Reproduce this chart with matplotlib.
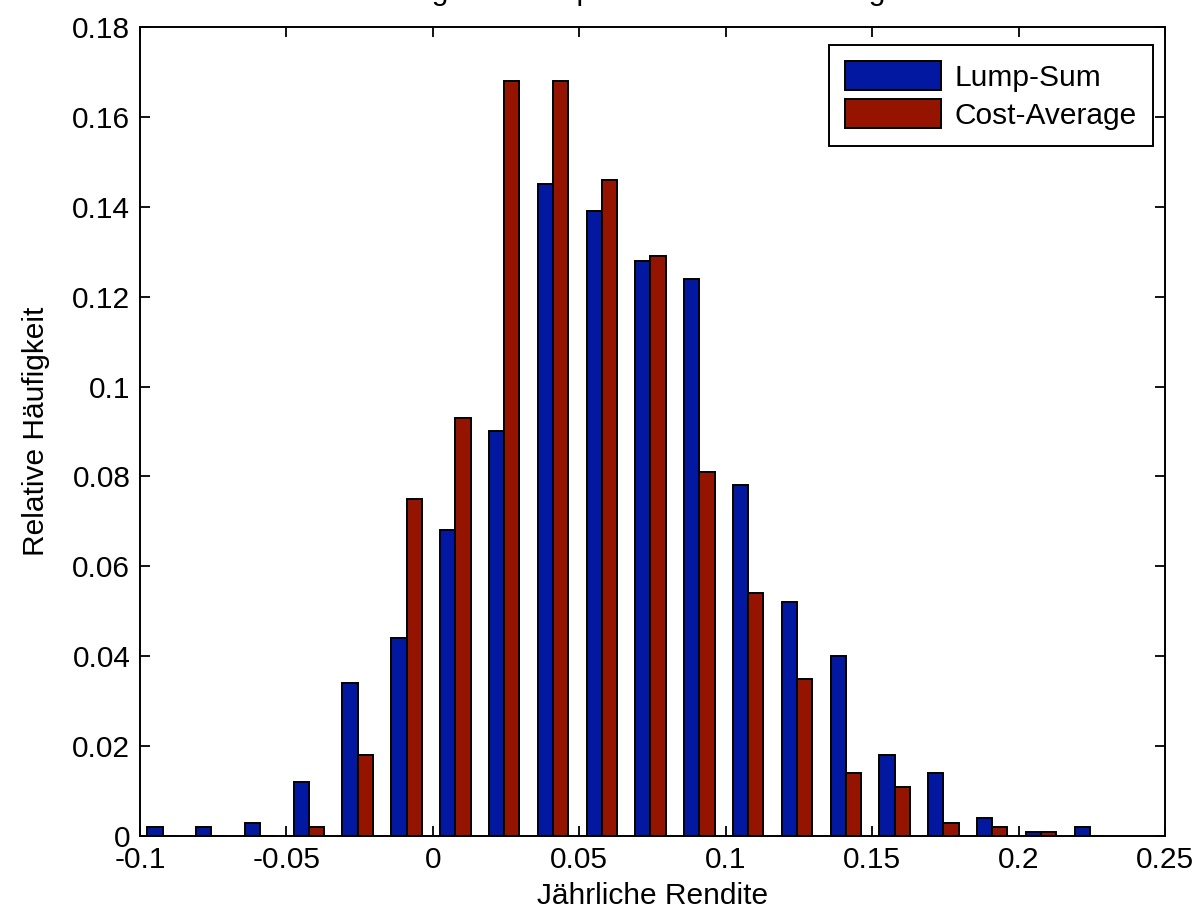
import matplotlib
matplotlib.use("Agg")
import matplotlib.pyplot as plt

# bin centres of the return histogram
bin_centers = [-0.0923, -0.0757, -0.0590, -0.0423, -0.0257, -0.0090, 0.0077,
               0.0243, 0.0410, 0.0577, 0.0743, 0.0910, 0.1077, 0.1243,
               0.1410, 0.1577, 0.1743, 0.1910, 0.2077, 0.2243]
lump_sum = [0.002, 0.002, 0.003, 0.012, 0.034, 0.044, 0.068, 0.090, 0.145, 0.139,
            0.128, 0.124, 0.078, 0.052, 0.040, 0.018, 0.014, 0.004, 0.001, 0.002]
cost_avg = [0.000, 0.000, 0.000, 0.002, 0.018, 0.075, 0.093, 0.168, 0.168, 0.146,
            0.129, 0.081, 0.054, 0.035, 0.014, 0.011, 0.003, 0.002, 0.001, 0.000]
series_names = ["Lump-Sum", "Cost-Average"]

xticks = [-0.1, -0.05, 0, 0.05, 0.1, 0.15, 0.2, 0.25]
xticklabels = ["-0.1", "-0.05", "0", "0.05", "0.1", "0.15", "0.2", "0.25"]
yticks = [0, 0.02, 0.04, 0.06, 0.08, 0.1, 0.12, 0.14, 0.16, 0.18]
yticklabels = ["0", "0.02", "0.04", "0.06", "0.08", "0.1", "0.12", "0.14", "0.16", "0.18"]

plt.rcParams['font.family'] = ['Liberation Sans', 'DejaVu Sans']
fs = 21.5

fig = plt.figure(figsize=(12, 9.13), dpi=100)
ax = fig.add_axes([140/1200, 77/913, 1025/1200, 809/913])

w = 0.0052
ax.bar([c - w/2 for c in bin_centers], lump_sum, width=w, color='#0218A0',
       edgecolor='black', linewidth=1.4, label=series_names[0])
ax.bar([c + w/2 for c in bin_centers], cost_avg, width=w, color='#941400',
       edgecolor='black', linewidth=1.4, label=series_names[1])

ax.set_xlim(-0.1, 0.25)
ax.set_ylim(0, 0.18)
ax.set_xticks(xticks)
ax.set_xticklabels(xticklabels)
ax.set_yticks(yticks)
ax.set_yticklabels(yticklabels)
ax.tick_params(direction='in', length=7.5, width=1.3, labelsize=fs,
               top=True, right=True, pad=7)
for s in ax.spines.values():
    s.set_linewidth(1.4)

ax.set_xlabel("Jährliche Rendite", fontsize=fs, labelpad=6)
ax.set_ylabel("Relative Häufigkeit", fontsize=fs, labelpad=16)

# title sits mostly outside the saved image, only descenders show
fig.text(0.5367, 1.0, "Vergleich Lump-Sum vs. Cost-Average", fontsize=fs,
         ha='center', va='baseline')

leg = ax.legend(loc='upper right', bbox_to_anchor=(1153/1200, 1 - 45/913),
                bbox_transform=fig.transFigure, fontsize=fs, fancybox=False,
                framealpha=1, edgecolor='black', handlelength=3.2,
                handleheight=1.1, borderpad=0.55, labelspacing=0.25,
                handletextpad=0.45, borderaxespad=0)
leg.get_frame().set_linewidth(1.4)

fig.savefig("out.png", dpi=100)
